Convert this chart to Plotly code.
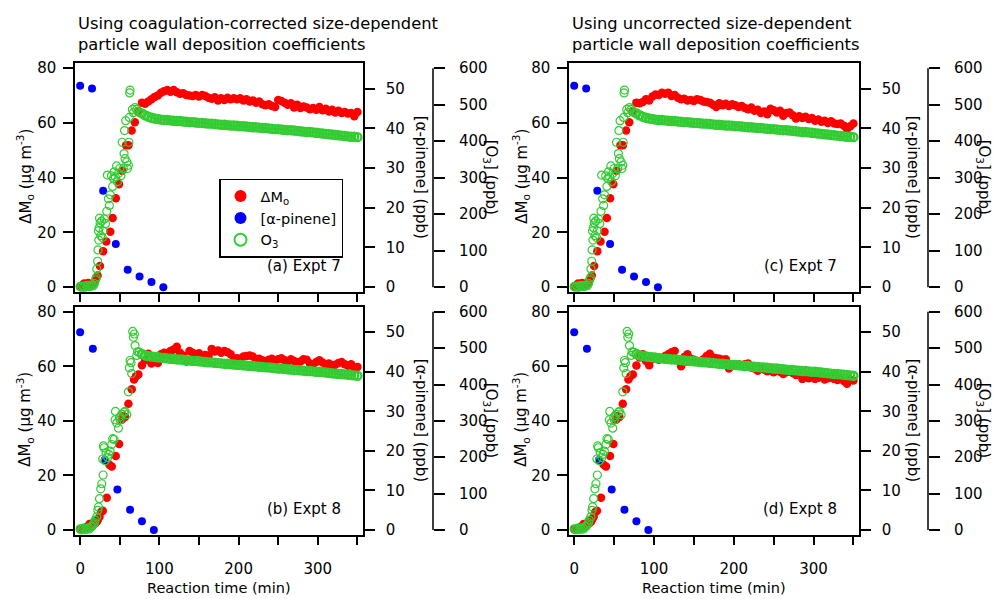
import plotly.graph_objects as go

# ------------------------------------------------------------------ data
# common sampling grid (min) for the post-peak part of the runs
T_PLATEAU = [78, 82, 86, 90, 94, 98, 102, 106, 110, 114,
             118, 122, 126, 130, 134, 138, 142, 146, 150, 154,
             158, 162, 166, 170, 174, 178, 182, 186, 190, 194,
             198, 202, 206, 210, 214, 218, 222, 226, 230, 234,
             238, 242, 246, 250, 254, 258, 262, 266, 270, 274,
             278, 282, 286, 290, 294, 298, 302, 306, 310, 314,
             318, 322, 326, 330, 334, 338, 342, 346, 350]

# ---- Expt 7 ----
APIN7_T = [0, 15, 29, 45, 60, 75, 90, 105]
APIN7 = [50.7, 50.0, 24.3, 10.9, 4.4, 2.7, 1.3, 0.0]

DMO7_EARLY_T = [0, 2, 3.5, 5, 6.5, 8, 10, 12, 14, 16,
                18, 20, 22, 25, 29, 33, 38, 41, 45, 49,
                53, 58, 61, 65, 69, 73]
DMO7_EARLY = [0.1, 0.4, 0.9, 1.3, 0.8, 1.0, 1.5, 1.2, 0.9, 1.3,
              2.0, 3.0, 4.3, 7.7, 13.1, 16.7, 20.2, 25.3, 32.5, 37.6,
              42.5, 51.8, 51.8, 57.2, 60.2, 64.0]

# (a) coagulation-corrected
DMO_A_PLATEAU = [67.4, 67.0, 67.8, 68.6, 69.5, 70.0, 71.0, 71.6, 72.0, 71.4,
                 72.0, 71.2, 70.6, 70.8, 70.2, 70.0, 69.8, 70.2, 69.6, 70.2,
                 69.8, 69.2, 68.8, 69.4, 68.2, 69.0, 68.4, 69.2, 68.6, 69.0,
                 68.6, 69.0, 68.2, 68.6, 67.8, 68.2, 67.4, 67.8, 66.8, 66.4,
                 66.8, 66.2, 65.8, 68.4, 68.0, 67.4, 66.6, 67.2, 65.6, 66.6,
                 65.4, 66.0, 65.6, 65.0, 65.4, 64.8, 65.8, 64.6, 65.2, 64.2,
                 64.8, 63.8, 64.4, 63.6, 64.0, 63.4, 63.6, 62.4, 64.0]
# (c) uncorrected
DMO_C_PLATEAU = [67.4, 67.2, 67.6, 68.6, 68.2, 69.6, 70.4, 70.2, 71.0, 70.6,
                 71.0, 69.8, 70.2, 69.2, 68.6, 68.8, 68.2, 68.4, 68.0, 68.6,
                 68.4, 67.8, 67.6, 67.4, 66.6, 65.8, 67.2, 66.4, 67.0, 66.2,
                 66.8, 66.4, 65.8, 66.2, 65.4, 65.0, 65.6, 64.4, 64.8, 63.6,
                 64.2, 63.2, 65.2, 64.6, 63.8, 64.4, 62.6, 63.6, 63.8, 62.8,
                 61.6, 62.4, 61.8, 62.2, 61.4, 61.8, 60.8, 61.2, 60.4, 60.8,
                 60.0, 60.6, 59.8, 59.6, 59.8, 59.0, 57.8, 58.8, 59.8]

O3_7_EARLY_T = [0, 1.5, 3, 4.5, 6, 7.5, 9, 10.5, 12, 13.5,
                15, 16.5, 18, 19.5, 20.3, 21, 22, 22.5, 23, 23.5,
                24, 24.5, 25.2, 26, 27, 28, 29, 30.5, 32, 33.6,
                34.4, 35.7, 36.9, 38, 39.5, 41, 42, 43, 44.5, 46,
                47, 48.5, 50, 51.5, 53, 54.6, 55.4, 56, 56.7, 57.5,
                58.8, 59.7, 60.9, 61.5, 62, 62.5, 63, 65.9, 67.2, 69.3,
                71.4, 73.5, 75.5]
O3_7_EARLY = [2, 0, 3, 1, 0, 4, 2, 5, 1, 3,
              6, 4, 10, 20, 26, 50, 71, 102, 154, 129,
              163, 189, 176, 141, 181, 136, 154, 187, 174, 208,
              307, 242, 224, 253, 305, 276, 298, 316, 302, 332,
              289, 312, 325, 305, 397, 325, 366, 429, 352, 456,
              343, 325, 334, 397, 465, 532, 540, 487, 478, 492,
              487, 482, 478]
O3_7_PLATEAU = [476, 471, 467, 464, 462, 461, 459, 458, 458, 457,
                456, 455, 455, 454, 453, 452, 452, 451, 450, 450,
                449, 448, 448, 447, 446, 445, 445, 444, 443, 443,
                442, 441, 441, 440, 439, 438, 438, 437, 436, 436,
                435, 434, 433, 433, 432, 431, 430, 430, 429, 428,
                427, 426, 425, 425, 424, 423, 422, 421, 420, 419,
                418, 417, 416, 415, 414, 413, 412, 412, 411]

# ---- Expt 8 ----
APIN8_T = [0, 16, 31, 47, 63, 78, 93]
APIN8 = [50.0, 45.8, 17.7, 10.2, 5.1, 2.2, 0.0]

DMO8_EARLY_T = [0, 2, 4.2, 6, 7.5, 9.5, 11.8, 13, 14.7, 16,
                17.6, 19, 21, 22.5, 24.4, 26.4, 28.5, 33.6, 37, 39.9,
                44.9, 49.1, 52.5, 54.5, 56.7, 60.9, 65.1, 68, 70.5, 73.5]
DMO8_EARLY = [0.2, 0.1, 0.4, 0.3, 1.0, 1.2, 2.2, 1.5, 1.2, 2.0,
              3.0, 2.4, 3.0, 3.8, 4.8, 6.6, 7.0, 11.8, 23.9, 23.3,
              27.1, 31.5, 40.4, 41.8, 41.4, 46.3, 51.6, 55.2, 56.4, 57.0]

# (b) coagulation-corrected
DMO_B_PLATEAU = [60.4, 62.2, 64.6, 61.0, 62.8, 61.2, 64.4, 65.0, 64.6, 65.6,
                 66.2, 67.2, 65.0, 64.0, 61.8, 65.6, 65.0, 64.2, 64.8, 63.6,
                 64.2, 63.8, 66.4, 65.4, 65.8, 65.0, 65.6, 65.2, 64.4, 62.6,
                 63.0, 62.8, 63.6, 63.8, 64.0, 63.6, 62.6, 62.8, 62.2, 61.8,
                 62.4, 62.8, 62.0, 62.6, 63.0, 62.2, 61.8, 62.6, 62.0, 61.4,
                 61.8, 62.6, 62.4, 61.0, 60.8, 61.6, 62.2, 61.4, 60.8, 61.0,
                 60.4, 60.6, 61.2, 61.6, 60.8, 60.2, 60.8, 59.4, 59.8]
# (d) uncorrected
DMO_D_PLATEAU = [60.3, 63.2, 64.4, 62.0, 60.4, 62.6, 63.4, 62.4, 62.8, 63.8,
                 64.4, 65.2, 65.6, 62.4, 60.0, 63.4, 64.4, 62.8, 62.4, 62.0,
                 61.6, 62.6, 63.8, 64.6, 63.2, 63.0, 62.8, 62.4, 62.6, 59.2,
                 60.6, 60.2, 60.8, 60.4, 60.8, 61.0, 59.6, 59.2, 58.4, 59.2,
                 58.8, 58.2, 58.6, 57.8, 58.4, 58.0, 57.2, 57.8, 58.2, 57.6,
                 56.8, 57.4, 55.4, 56.2, 55.6, 56.4, 55.4, 55.8, 56.2, 55.2,
                 55.6, 56.0, 55.4, 55.0, 55.4, 54.6, 53.6, 55.0, 54.8]

O3_8_EARLY_T = [0, 1.5, 3, 4.5, 6, 7.5, 9, 10.5, 12, 13.5,
                15, 16.5, 18, 18.9, 21, 22.3, 23.1, 24.4, 26, 27.3,
                29, 28.5, 29.4, 30.2, 31.5, 32.7, 34.8, 36, 37.8, 39.9,
                41.1, 42.8, 44.1, 44.6, 46.2, 48.3, 49.5, 50.4, 52.5, 55.4,
                56.7, 58.8, 60.9, 62.1, 63, 64.2, 65.1, 66.3, 67.2, 68.4,
                69.3, 71.4, 72.5, 74.7]
O3_8_EARLY = [3, 0, 2, 5, 1, 4, 2, 6, 3, 8,
              10, 14, 20, 27, 36, 54, 63, 86, 113, 127,
              151, 195, 231, 226, 190, 213, 199, 208, 217, 235,
              251, 249, 303, 326, 294, 280, 310, 303, 318, 324,
              326, 317, 380, 446, 466, 460, 430, 546, 530, 539,
              507, 480, 490, 489]
O3_8_PLATEAU = [484, 480, 478, 477, 476, 475, 474, 473, 472, 471,
                470, 469, 469, 468, 467, 466, 465, 465, 464, 463,
                462, 461, 461, 460, 459, 458, 457, 457, 456, 455,
                454, 454, 453, 452, 451, 451, 450, 449, 448, 447,
                447, 446, 445, 444, 444, 443, 442, 441, 440, 440,
                439, 438, 437, 437, 436, 435, 435, 434, 433, 432,
                431, 430, 429, 429, 428, 427, 426, 425, 424]

X_TICKS = [0, 50, 100, 150, 200, 250, 300, 350]
X_TICKTEXT = ["0", "", "100", "", "200", "", "300", ""]
DMO_TICKS = [0, 20, 40, 60, 80]
APIN_TICKS = [0, 10, 20, 30, 40, 50]
O3_TICKS = [0, 100, 200, 300, 400, 500, 600]

TITLES = {"left": ["Using coagulation-corrected size-dependent",
                   "particle wall deposition coefficients"],
          "right": ["Using uncorrected size-dependent",
                    "particle wall deposition coefficients"]}

# ------------------------------------------------------------------ layout helpers
W, H = 995, 599
FONT = "DejaVu Sans"
RED, BLUE, GREEN = "#ff0000", "#0000ff", "#33cc33"


def fx(p):
    return p / W


def fy(p):
    return 1 - p / H


COLS = {"left": (75, 363), "right": (569, 859)}
ROWS = {"top": (60, 292), "bottom": (307, 538)}
O3_AXIS_X = {"left": 433, "right": 928}
APIN_TITLE_X = {"left": 421, "right": 913}
O3_TITLE_X = {"left": 490, "right": 983}
DMO_TITLE_X = {"left": 25, "right": 521}

X_RANGE = [-6.5, 357]
DMO_RANGE = [-1.8, 81.8]
APIN_RANGE = [-1.24, 56.4]
O3_RANGE = [-13.5, 613.5]

panels = [
    dict(col="left", row="top", label="(a) Expt 7", dmo_t=DMO7_EARLY_T + T_PLATEAU,
         dmo=DMO7_EARLY + DMO_A_PLATEAU, ap_t=APIN7_T, ap=APIN7,
         o3_t=O3_7_EARLY_T + T_PLATEAU, o3=O3_7_EARLY + O3_7_PLATEAU, n_o3_early=len(O3_7_EARLY)),
    dict(col="left", row="bottom", label="(b) Expt 8", dmo_t=DMO8_EARLY_T + T_PLATEAU,
         dmo=DMO8_EARLY + DMO_B_PLATEAU, ap_t=APIN8_T, ap=APIN8,
         o3_t=O3_8_EARLY_T + T_PLATEAU, o3=O3_8_EARLY + O3_8_PLATEAU, n_o3_early=len(O3_8_EARLY)),
    dict(col="right", row="top", label="(c) Expt 7", dmo_t=DMO7_EARLY_T + T_PLATEAU,
         dmo=DMO7_EARLY + DMO_C_PLATEAU, ap_t=APIN7_T, ap=APIN7,
         o3_t=O3_7_EARLY_T + T_PLATEAU, o3=O3_7_EARLY + O3_7_PLATEAU, n_o3_early=len(O3_7_EARLY)),
    dict(col="right", row="bottom", label="(d) Expt 8", dmo_t=DMO8_EARLY_T + T_PLATEAU,
         dmo=DMO8_EARLY + DMO_D_PLATEAU, ap_t=APIN8_T, ap=APIN8,
         o3_t=O3_8_EARLY_T + T_PLATEAU, o3=O3_8_EARLY + O3_8_PLATEAU, n_o3_early=len(O3_8_EARLY)),
]

fig = go.Figure()
layout = {}
shapes = []
annotations = []

axis_common = dict(showgrid=False, zeroline=False, showline=True, linecolor="black",
                   linewidth=1.5, ticks="outside", tickcolor="black", tickwidth=1.5,
                   tickfont=dict(family=FONT, size=15, color="black"))

for i, p in enumerate(panels):
    xi = i + 1
    yd, ya, yo = 3 * i + 1, 3 * i + 2, 3 * i + 3
    xname = "x" if xi == 1 else f"x{xi}"
    yd_name = "y" if yd == 1 else f"y{yd}"
    ya_name, yo_name = f"y{ya}", f"y{yo}"
    c0, c1 = COLS[p["col"]]
    r0, r1 = ROWS[p["row"]]
    show = i == 0

    # open rings: thin for the sparse rising part, thicker in the dense decay band
    o3_lw = [1.2] * p["n_o3_early"] + [2.4] * (len(p["o3"]) - p["n_o3_early"])

    fig.add_trace(go.Scatter(x=p["dmo_t"], y=p["dmo"], mode="markers", name="ΔM<sub>o</sub>",
                             marker=dict(color=RED, size=8.5, line=dict(width=0)),
                             xaxis=xname, yaxis=yd_name, showlegend=show))
    fig.add_trace(go.Scatter(x=p["ap_t"], y=p["ap"], mode="markers", name="[α-pinene]",
                             marker=dict(color=BLUE, size=8, line=dict(width=0)),
                             xaxis=xname, yaxis=ya_name, showlegend=show))
    fig.add_trace(go.Scatter(x=p["o3_t"], y=p["o3"], mode="markers", name="O<sub>3</sub>",
                             marker=dict(color=GREEN, size=8, symbol="circle-open",
                                         line=dict(width=o3_lw, color=GREEN)),
                             xaxis=xname, yaxis=yo_name, showlegend=show))

    bottom = p["row"] == "bottom"
    layout["xaxis" if xi == 1 else f"xaxis{xi}"] = dict(
        axis_common, domain=[fx(c0), fx(c1)], range=X_RANGE, anchor=yd_name,
        mirror=True, tickvals=X_TICKS,
        ticktext=X_TICKTEXT if bottom else [""] * len(X_TICKS),
        ticklen=8, ticklabelstandoff=11)
    layout["yaxis" if yd == 1 else f"yaxis{yd}"] = dict(
        axis_common, domain=[fy(r1), fy(r0)], range=DMO_RANGE, anchor=xname,
        mirror=True, tickvals=DMO_TICKS, ticklen=10, ticklabelstandoff=4)
    layout[f"yaxis{ya}"] = dict(
        axis_common, range=APIN_RANGE, overlaying=yd_name, anchor=xname, side="right",
        tickvals=APIN_TICKS, ticklen=10, ticklabelstandoff=8)
    layout[f"yaxis{yo}"] = dict(
        axis_common, range=O3_RANGE, overlaying=yd_name, anchor="free",
        position=fx(O3_AXIS_X[p["col"]]), side="right", showline=False,
        tickvals=O3_TICKS, ticklen=11, ticklabelstandoff=11)

    # O3 axis spine spanning 0..600 only
    shapes.append(dict(type="line", xref="paper", yref=yo_name,
                       x0=fx(O3_AXIS_X[p["col"]]), x1=fx(O3_AXIS_X[p["col"]]),
                       y0=O3_TICKS[0], y1=O3_TICKS[-1],
                       line=dict(color="black", width=1.5)))

    ymid = fy((r0 + r1) / 2 - 1)
    annotations.append(dict(text="ΔM<sub>o</sub> (µg m<sup>-3</sup>)", textangle=-90,
                            x=fx(DMO_TITLE_X[p["col"]]), y=ymid, xref="paper", yref="paper",
                            showarrow=False, xanchor="center", yanchor="middle",
                            font=dict(family=FONT, size=15, color="black")))
    annotations.append(dict(text="[α-pinene] (ppb)", textangle=90,
                            x=fx(APIN_TITLE_X[p["col"]]), y=ymid, xref="paper", yref="paper",
                            showarrow=False, xanchor="center", yanchor="middle",
                            font=dict(family=FONT, size=15, color="black")))
    annotations.append(dict(text="[O<sub>3</sub>] (ppb)", textangle=90,
                            x=fx(O3_TITLE_X[p["col"]]), y=ymid, xref="paper", yref="paper",
                            showarrow=False, xanchor="center", yanchor="middle",
                            font=dict(family=FONT, size=15, color="black")))
    annotations.append(dict(text=p["label"], x=fx(c1 - 20), y=fy(r1 - 26),
                            xref="paper", yref="paper", showarrow=False,
                            xanchor="right", yanchor="middle",
                            font=dict(family=FONT, size=15, color="black")))
    if bottom:
        annotations.append(dict(text="Reaction time (min)", x=fx((c0 + c1) / 2), y=fy(592),
                                xref="paper", yref="paper", showarrow=False,
                                xanchor="center", yanchor="middle",
                                font=dict(family=FONT, size=14.5, color="black")))
    else:
        for k, line in enumerate(TITLES[p["col"]]):
            annotations.append(dict(text=line, x=fx(c0 + 1), y=fy(20 + 21 * k),
                                    xref="paper", yref="paper", showarrow=False,
                                    xanchor="left", yanchor="middle",
                                    font=dict(family=FONT, size=16.3, color="black")))

fig.update_layout(
    **layout,
    width=W, height=H, margin=dict(l=0, r=0, t=0, b=0),
    paper_bgcolor="white", plot_bgcolor="white",
    font=dict(family=FONT, size=15, color="black"),
    shapes=shapes, annotations=annotations,
    showlegend=True,
    legend=dict(x=fx(219), y=fy(177), xanchor="left", yanchor="top",
                bordercolor="black", borderwidth=1.5, bgcolor="white",
                font=dict(family=FONT, size=14.5, color="black"),
                itemsizing="constant", tracegroupgap=0),
)

fig.write_html("out.html", config={"displayModeBar": False},
               post_script="document.body.style.margin='0';document.body.style.overflow='hidden';")
